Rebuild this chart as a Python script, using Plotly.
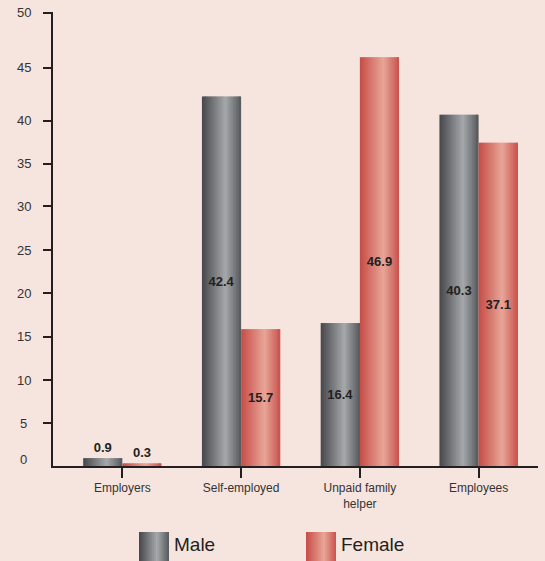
import plotly.graph_objects as go

# ---------------- data ----------------
categories = ["Employers", "Self-employed", "Unpaid family<br>helper", "Employees"]
male = [0.9, 42.4, 16.4, 40.3]
female = [0.3, 15.7, 46.9, 37.1]
series_names = ["Male", "Female"]
y_tick_labels = ["0", "5", "10", "15", "20", "25", "30", "35", "40", "45", "50"]
y_tick_pos = [0.75, 4.93, 9.86, 14.85, 19.84, 24.77, 29.82, 34.69, 39.62, 45.7, 52.0]

# ---------------- styling ----------------
BG = "#f6e4de"
AXIS = "#231f20"
FONT = "Arial, Liberation Sans, sans-serif"
male_stops = [(0.0, (69, 71, 75)), (0.6, (166, 169, 172)), (1.0, (86, 88, 92))]
female_stops = [(0.0, (198, 76, 71)), (0.6, (232, 166, 152)), (1.0, (200, 82, 76))]

W, H = 545, 561
ML, MR, MT, MB = 53, 7, 12, 95
X_RANGE = [-0.584, 3.50]
Y_RANGE = [0, 52.1]
BAR_W = 0.33
N = 24


def interp(stops, t):
    for (t0, c0), (t1, c1) in zip(stops[:-1], stops[1:]):
        if t0 <= t <= t1:
            f = (t - t0) / (t1 - t0)
            c = [round(a + (b - a) * f) for a, b in zip(c0, c1)]
            return "rgb(%d,%d,%d)" % tuple(c)
    c = stops[-1][1]
    return "rgb(%d,%d,%d)" % tuple(c)


fig = go.Figure()

step = BAR_W / N
for vals, stops, base in [(male, male_stops, -BAR_W), (female, female_stops, 0.0)]:
    for i in range(N):
        t = (i + 0.5) / N
        w = step * 1.6 if i < N - 1 else step
        fig.add_bar(x=categories, y=vals, offset=base + i * step, width=w,
                    marker=dict(color=interp(stops, t), line=dict(width=0)),
                    showlegend=False, hoverinfo="skip")

# value labels
for vals, base, name in [(male, -BAR_W, series_names[0]), (female, 0.0, series_names[1])]:
    fig.add_bar(x=categories, y=vals, offset=base, width=BAR_W, name=name,
                marker=dict(color="rgba(0,0,0,0)", line=dict(width=0)),
                text=[f"{v:.1f}" for v in vals],
                textposition=["outside" if v < 5 else "inside" for v in vals],
                insidetextanchor="middle", constraintext="none", cliponaxis=False,
                textfont=dict(family=FONT, size=13, color=AXIS, weight="bold"),
                showlegend=False, hoverinfo="skip")

plot_w = W - ML - MR
plot_h = H - MT - MB


def px2x(px):
    return (px - ML) / plot_w


def py2y(py):
    return (H - MB - py) / plot_h


shapes = []
annotations = []

# y tick labels (centered, as in reference)
for lab, pos in zip(y_tick_labels, y_tick_pos):
    annotations.append(dict(x=px2x(23.5), xref="paper", y=pos, yref="y", text=lab,
                            showarrow=False, xanchor="center", yanchor="middle",
                            font=dict(family=FONT, size=13, color="#333333")))

# custom legend with gradient squares
legend_items = [(series_names[0], male_stops, 139), (series_names[1], female_stops, 306)]
LN = 16
for name, stops, x0 in legend_items:
    sw = 30 / LN
    for i in range(LN):
        t = (i + 0.5) / LN
        xa = x0 + i * sw
        xb = xa + (sw * 1.5 if i < LN - 1 else sw)
        shapes.append(dict(type="rect", xref="paper", yref="paper",
                           x0=px2x(xa), x1=px2x(xb), y0=py2y(532), y1=py2y(566),
                           fillcolor=interp(stops, t), line=dict(width=0), layer="above"))
    annotations.append(dict(x=px2x(x0 + 33), xref="paper", y=py2y(544), yref="paper",
                            text=name, showarrow=False, xanchor="left", yanchor="middle",
                            font=dict(family=FONT, size=19, color="#231f20")))

fig.update_layout(
    width=W, height=H,
    margin=dict(l=ML, r=MR, t=MT, b=MB, pad=0),
    paper_bgcolor=BG, plot_bgcolor=BG,
    barmode="overlay",
    showlegend=False,
    font=dict(family=FONT, color="#333333"),
    shapes=shapes,
    annotations=annotations,
    xaxis=dict(range=X_RANGE, showline=True, linecolor=AXIS, linewidth=2,
               ticks="outside", ticklen=10, tickwidth=2, tickcolor=AXIS,
               tickfont=dict(family=FONT, size=12, color="#333333"),
               showgrid=False, zeroline=False, fixedrange=True),
    yaxis=dict(range=Y_RANGE, showline=True, linecolor=AXIS, linewidth=2,
               ticks="outside", ticklen=8, tickwidth=2, tickcolor=AXIS,
               tickvals=y_tick_pos[1:], showticklabels=False,
               showgrid=False, zeroline=False, fixedrange=True),
)

fig.write_html("out.html", config={"displayModeBar": False},
               post_script="document.body.style.margin='0';document.body.style.overflow='hidden';document.body.style.background='%s';" % BG)
